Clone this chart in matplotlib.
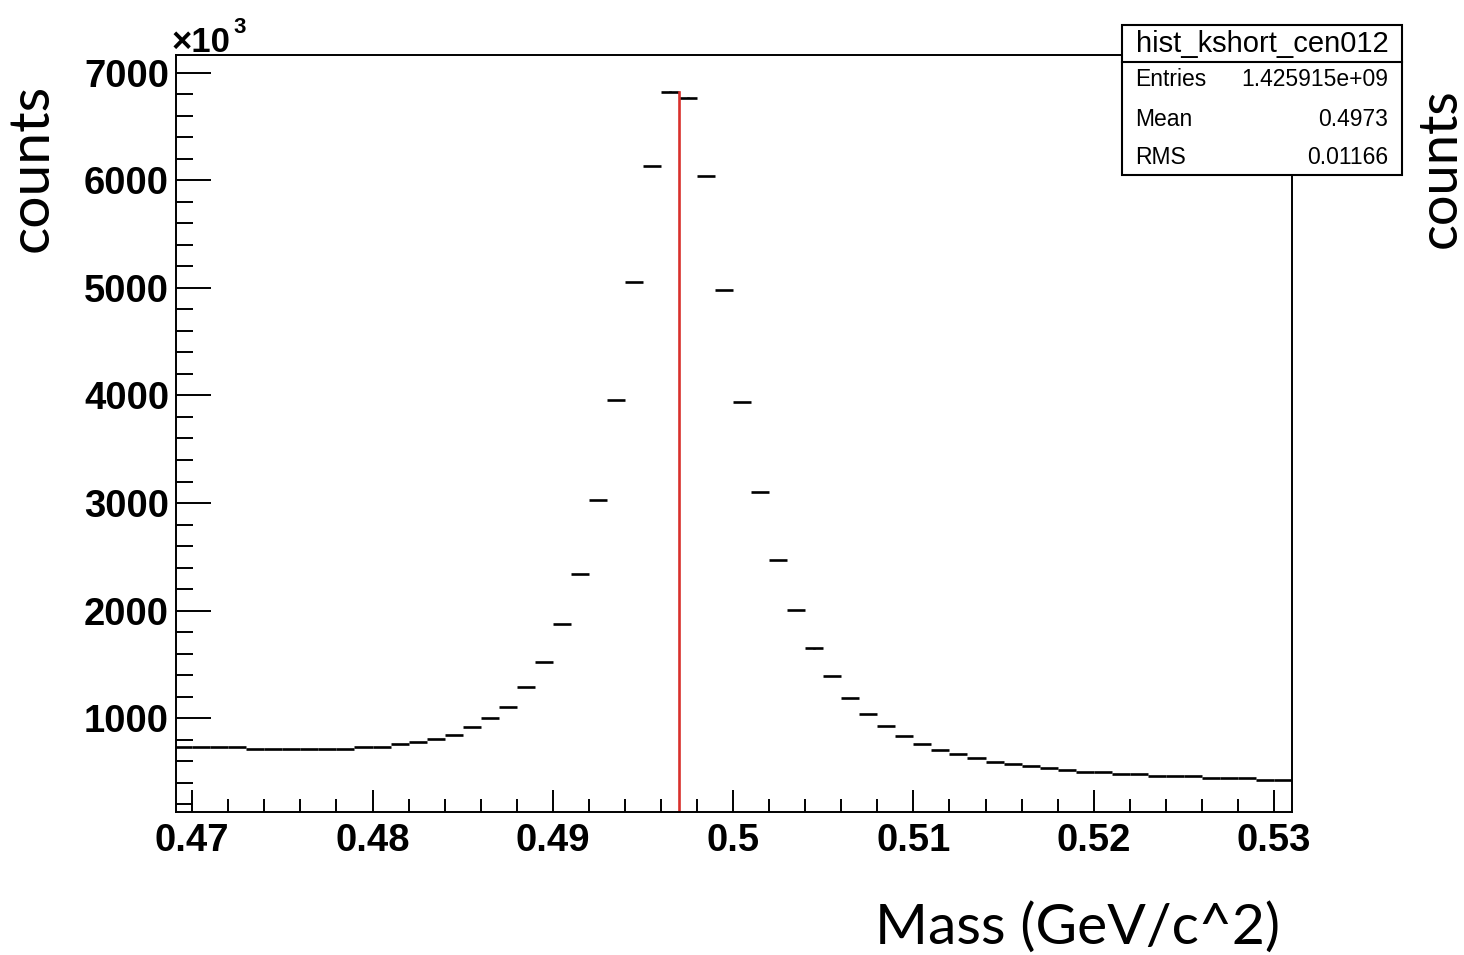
import numpy as np
import matplotlib
matplotlib.use('Agg')
import matplotlib.pyplot as plt
from matplotlib.ticker import MultipleLocator, FixedLocator
from matplotlib.patches import Rectangle
from matplotlib.lines import Line2D

# histogram: 62 bins of 0.001 GeV starting at 0.469, counts in units of 1e3
bin_lo = 0.469
bin_width = 0.001
counts_k = [733, 733, 733, 733, 715, 715, 715, 715, 715, 715,
            733, 733, 755, 774, 807, 845, 916, 997, 1105, 1291,
            1518, 1872, 2337, 3028, 3958, 5056, 6135, 6826, 6770, 6042,
            4981, 3940, 3100, 2467, 2002, 1648, 1388, 1183, 1034, 923,
            830, 755, 700, 662, 625, 588, 569, 551, 532, 514,
            495, 495, 476, 476, 458, 458, 458, 439, 439, 439,
            420, 420]
marker_x = 0.497

hist_name = 'hist_kshort_cen012'
stat_names = ['Entries', 'Mean', 'RMS']
stat_values = ['1.425915e+09', '0.4973', '0.01166']

W, H = 1464, 955
tickfont = ['Liberation Sans', 'DejaVu Sans']
plainfont = ['Liberation Sans', 'DejaVu Sans']
labelfont = ['Lato', 'Open Sans', 'DejaVu Sans']

fig = plt.figure(figsize=(W / 100, H / 100), dpi=100)
ax = fig.add_axes([176 / W, 1 - 812 / H, (1292 - 176) / W, (812 - 55) / H])

counts = np.array(counts_k, dtype=float)
centers = bin_lo + bin_width * (np.arange(len(counts)) + 0.5)
errs = np.sqrt(counts * 1000.0) / 1000.0

ax.errorbar(centers, counts, xerr=bin_width / 2, yerr=errs, fmt='none',
            ecolor='black', elinewidth=1.9, capsize=0)

ymin, ymax = 126, 7167
ax.plot([marker_x, marker_x], [ymin, counts.max()], color='#d9302c', lw=1.9)

ax.set_xlim(0.4691, 0.5310)
ax.set_ylim(ymin, ymax)

ax.xaxis.set_major_locator(FixedLocator([0.47, 0.48, 0.49, 0.50, 0.51, 0.52, 0.53]))
ax.xaxis.set_minor_locator(MultipleLocator(0.002))
ax.yaxis.set_major_locator(MultipleLocator(1000))
ax.yaxis.set_minor_locator(MultipleLocator(200))
ax.set_xticklabels(['0.47', '0.48', '0.49', '0.5', '0.51', '0.52', '0.53'])

ax.tick_params(axis='x', which='major', direction='in', length=16, width=1.4, pad=8)
ax.tick_params(axis='x', which='minor', direction='in', length=9.5, width=1.4)
ax.tick_params(axis='y', which='major', direction='in', length=25, width=1.4, pad=5)
ax.tick_params(axis='y', which='minor', direction='in', length=12.5, width=1.4)
for lab in ax.get_xticklabels() + ax.get_yticklabels():
    lab.set_family(tickfont)
    lab.set_fontweight('bold')
    lab.set_fontsize(27.5)
for s in ax.spines.values():
    s.set_linewidth(1.4)

# x10^3 multiplier
fig.text(172 / W, 1 - 52 / H, '\u00d710', family=tickfont, fontweight='bold',
         fontsize=25, va='baseline', ha='left')
fig.text(233 / W, 1 - 33 / H, '3', family=tickfont, fontweight='bold',
         fontsize=16, va='baseline', ha='left')

# stats box
bx0, bx1, by0, by1 = 1122, 1402, 25, 175
fig.patches.append(Rectangle((bx0 / W, 1 - by1 / H), (bx1 - bx0) / W, (by1 - by0) / H,
                             transform=fig.transFigure, facecolor='white',
                             edgecolor='black', lw=1.5, zorder=5))
fig.lines.append(Line2D([bx0 / W, bx1 / W], [1 - 62 / H, 1 - 62 / H],
                        transform=fig.transFigure, color='black', lw=1.5, zorder=6))
fig.text((bx0 + bx1) / 2 / W, 1 - 44 / H, hist_name, family=plainfont, fontsize=21,
         ha='center', va='center', zorder=7)
row_y = [80, 119, 157]
for name, val, yy in zip(stat_names, stat_values, row_y):
    fig.text(1135 / W, 1 - yy / H, name, family=plainfont, fontsize=16.5,
             ha='left', va='center', zorder=7)
    fig.text(1388 / W, 1 - yy / H, val, family=plainfont, fontsize=16.5,
             ha='right', va='center', zorder=7)

# axis titles
fig.text(32 / W, 1 - 168 / H, 'counts', family=labelfont, fontsize=41,
         rotation=90, ha='center', va='center')
fig.text(1440 / W, 1 - 168 / H, 'counts', family=labelfont, fontsize=39,
         rotation=90, ha='center', va='center')
fig.text(1078 / W, 1 - 928 / H, 'Mass (GeV/c^2)', family=labelfont, fontsize=41,
         ha='center', va='center')

fig.savefig('out.png', dpi=100)
